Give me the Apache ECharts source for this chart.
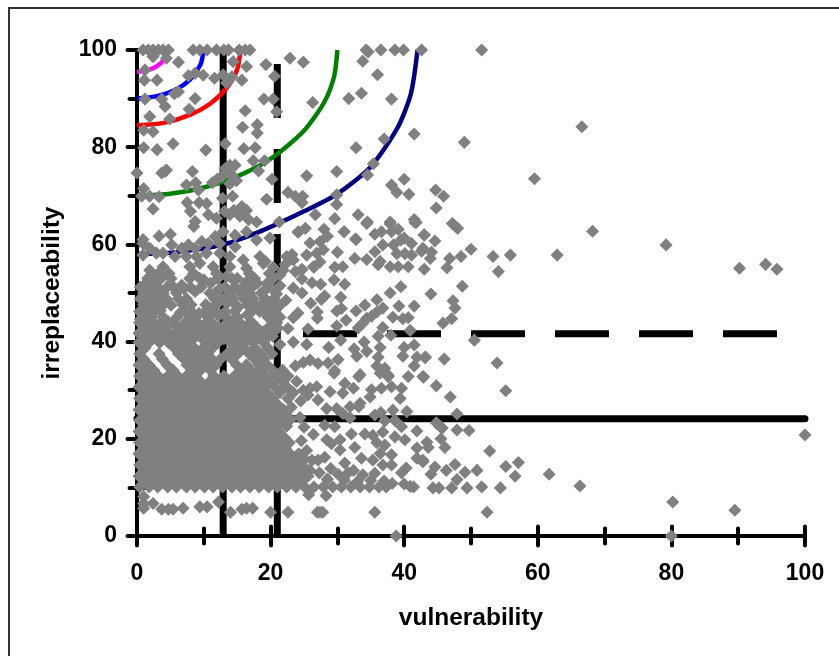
<!DOCTYPE html>
<html>
<head>
<meta charset="utf-8">
<title>irreplaceability vs vulnerability</title>
<style>
  html, body { margin: 0; padding: 0; background: #fff; }
  #chart { width: 839px; height: 656px; }
</style>
<script src="https://cdn.jsdelivr.net/npm/echarts@6/dist/echarts.min.js"></script>
</head>
<body>
<div id="chart"></div>
<script>
// axis
const tickInterval = 20;
const axisMax = 100;

// threshold lines
const vulnSolid = [[12.9, 0], [12.9, 100]];
const vulnDashed = [[21, 97.1], [21, 0]];
const irrSolid = [[0, 24.1], [100, 24.1]];
const irrDashed = [[-0.3, 41.6], [96.6, 41.6]];

// curved zones, innermost first
const arcMagenta = [[0, 95.5], [2, 96], [3.5, 97.2], [4.5, 99]];
const arcBlue = [[0, 90], [3, 90.5], [6, 92], [8, 94], [9.5, 97], [10, 100]];
const arcRed = [[0, 84.5], [4, 85], [8, 86.7], [11, 89], [13.5, 92.3], [15, 96], [15.5, 100]];
const arcGreen = [[0, 70], [5, 70.4], [10, 71.7], [15, 74], [20, 77.6], [25, 83.4], [28, 89.2], [29.5, 94.5], [30, 100]];
const arcNavy = [[0, 58], [6, 58.4], [13, 60], [19, 63], [25, 66.8], [30, 70.4], [35, 76], [39, 84], [41, 91], [42, 100]];

// species
const pointsFarRight = [
  [42.6,100],[51.6,100],[66.6,84.2],[49,81],[59.5,73.5],[44.7,71.2],[45.9,69.9],[44.8,67.5],[47.2,64.3],[47.6,63.8],[48,63.3],
  [43,61.9],[44.6,60.7],[50,59],[42.8,59.2],[44.1,58.4],[42.6,58.6],[43.9,57.1],[46.8,57.1],[48.5,57.5],[53.3,57.5],[55.9,57.8],
  [62.9,57.8],[68.2,62.7],[79.2,59.9],[90.2,55.1],[94.1,55.9],[95.8,54.9],[54.1,54.4],[46.4,55.2],[43,54.9],[48.7,51.4],[44,49.8],
  [47.3,48.4],[47.6,46.9],[47.1,44.7],[45.8,43.8],[50.5,40.3],[53.9,35.6],[55.2,29.9],[46,36.4],[43.1,36.7],[42.9,32.7],[44.8,30.9],
  [46.9,28.6],[47.9,25.1],[44.8,23.3],[45.4,22.5],[45.7,22.2],[47.9,21.8],[49.7,21.7],[45.5,20],[43.4,19.3],[43.6,18.2],[46.1,18.2],
  [52.8,17.5],[42.8,15.3],[57.1,15.1],[55.2,14.3],[47.6,14.7],[44.6,14.2],[44,12.7],[46.3,13.5],[49.1,13.1],[50.9,13.5],[56.6,12.3],
  [61.7,12.7],[47.9,11.6],[66.3,10.3],[44.3,9.9],[45.2,9.9],[47.1,9.9],[49.4,9.9],[51.6,10.1],[54.4,9.9],[52.4,4.9],[80.2,7],[89.5,5.3],
  [80,0],[100,20.8],[38.8,0]
];
const pointsTop = [
  [0.9,100],[1.7,100],[2.4,100],[3.2,100],[3.9,100],[4.7,100],[8.4,100],[9.4,100],[10.5,100],[11.9,100],[13,100],[13.7,100],[15.3,100],
  [16.2,100],[16.9,100],[34.3,100],[36.5,100],[38.6,100],[39.9,100],[33.8,97.7],[34.6,99.6],[2.4,98.6],[4.4,98.3],[6.2,97.5],[14.4,97.6],
  [16.4,96.6],[19.3,97],[22.9,98.3],[24.9,97.5],[1.2,95.9],[1.1,93.8],[3,93.8],[7.7,94.7],[8.7,95.2],[9.9,94.8],[11.6,94.2],[12.9,94.9],
  [14.2,94.5],[13.4,93.2],[15.7,93.8],[20.6,94.6],[36,94.9],[6.2,91.4],[5.6,91],[3.7,89.9],[1.2,89.9],[4.2,88.4],[8.7,90],[7.8,87.8],
  [4.9,85.8],[1.9,86.3],[1,83.5],[2.4,83.2],[16.2,87.5],[19,89.9],[20.4,89.9],[20.9,87.3],[26.3,89.2],[31.7,90],[33.6,91.1],[38.1,89.9],
  [15.8,84.1],[18,84.6],[18,82.9],[41.5,82.7],[37,81.7],[5.4,80.7],[1,79.9],[3,79.5],[10.3,79.4],[13.2,80.7],[16,79.7],[17.7,79.9],
  [32.8,79.9],[17.4,77.2],[19.1,77.2],[35.4,76.6],[4.4,75.3],[3.7,74.7],[4.2,75],[0,74.7],[8.3,75],[13.9,76.3],[14.7,76.3],[13.2,75.6],
  [18.2,75.1],[29.9,75],[25.4,74.1],[34.5,74.3],[12.7,74],[12,73.4],[11.3,72.7],[14.2,74.3],[14.9,73.1],[13.9,72.5],[20.2,73.4],[38.1,72.2],
  [40,73.4],[8.8,72.7],[7.4,72.2],[9.2,71.2],[1,71.5],[1.9,69.9],[0.7,69.9],[3.3,69.8],[22.6,70.7],[23.7,69.9],[24.8,69.9],[24.7,68.6],
  [19.4,69.3],[14.3,69.9],[12.8,69.5],[38.9,70.7],[40.7,70.3],[29.9,70.2],[29.9,68.2],[7.5,68.6],[9.3,68.6],[10.4,68.4]
];
const pointsUpperMid = [
  [2.4,67.3],[8,66.8],[10.7,66.1],[13.1,66.8],[14.5,67],[15.7,67.8],[16.4,67],[15.4,65.8],[13.9,66.1],[16.7,65.1],[17.9,64.6],[11.9,65.4],
  [8.7,64.7],[8.5,63.7],[21.3,64.6],[26.7,66.1],[33.1,66.1],[34.5,64.6],[29.6,65.3],[37.9,64.6],[41.5,65.1],[41.8,64.5],[31,62.6],[32.8,61],
  [24.2,62.6],[5,62.1],[3.3,61.7],[0.9,61],[19.9,61.3],[1.9,59.2],[2.9,58.2],[3.9,58.2],[5.2,59.9],[6.7,59.2],[7.7,59.9],[8.7,59.2],[9.7,60.6],
  [10.7,60.2],[11.7,61.6],[12.9,62.6],[14.7,61.9],[16.4,62.6],[17.9,60.9],[14.7,59.5],[12.4,60.2],[12.4,58.2],[10.4,58.2],[8.9,57.5],[7.4,57.5],
  [5.7,57.5],[3.9,55.4],[1.9,54.7],[0.9,57.8],[0.9,60.2],[13.9,57.5],[15.9,56.8],[18.4,57.5],[13.9,55.4],[7.9,55.4],[9.4,56.1],[11.4,55.4],
  [16.4,55.1],[18.9,56.1],[22.4,57.5],[23.4,56.8],[21.9,54.7],[24.6,54.7],[26.4,55.4],[25.2,63.3],[24.1,62.5],[28,63.1],[28.5,61.7],[31,62.6],
  [32.7,61.1],[34.4,64.3],[35.6,62.1],[36.6,62.6],[37.9,64.2],[38.1,62.6],[39.1,63.1],[41.6,64.5],[43,62],[25.9,60.3],[25.4,57.8],[27.4,60.6],
  [27.9,58.9],[26.9,58.2],[27.4,56.4],[26.5,55.3],[30,58.4],[29.6,55.3],[30.8,55.4],[32.6,57.1],[34.4,56.9],[35.6,58.5],[36.8,59.9],[36.4,56.5],
  [36.1,55.8],[37.9,55.4],[38.4,59.9],[38.9,58.1],[39.5,60.9],[40.1,58.1],[41.1,60.2],[41.1,57.8],[39.1,55.4],[40.6,55.4],[42.8,58.9],[40,61.3],
  [23.2,57.9],[19.2,56.5],[20.4,55.3],[22.2,55.9]
];
const pointsMid = [
  [23.7,54.4],[24.7,54.9],[21.4,53.7],[24.7,52.9],[26.2,52.1],[27.5,51.8],[29.5,52.7],[31.1,51.8],[19.4,51.9],[23.4,51],[24.7,50],[21.4,51.5],
  [20.9,49.8],[22.3,48.5],[28.1,49.4],[27.6,48.7],[30.5,49.1],[26,47.9],[37.9,50],[39.5,51.3],[35.9,48.6],[34.1,47.5],[41.5,47.3],[39.2,47.3],
  [36.8,46.9],[32.8,46.3],[29.9,46.3],[30.6,46.8],[27,46.1],[27,44.8],[24.1,45.9],[23.4,44.9],[31.3,44.4],[35.1,45.2],[35.9,46.1],[34.4,44.8],
  [33.8,43.8],[33.1,42.8],[38.3,45],[39.8,44.7],[40.6,44.9],[29.9,43.2],[36.8,42.9],[25.6,42.6],[22.6,42.7],[20.9,43.9],[40.9,42.3],[36.1,41.1],
  [38,41.3],[30.5,40.3],[25.4,39.4],[23.4,39.9],[21.4,39.4],[34,39.9],[28.7,38.8],[36.4,38.8],[32.5,38.5],[34.4,38],[32.9,37],[41.5,39.3],[40,38.8],
  [39.8,37],[41.9,36.8],[43.2,36.8],[36.1,36.8],[30.1,36.3],[28.6,35.6],[27.1,35.5],[25.9,36.2],[24.9,35.7],[23.7,35],[29.6,34],[35.9,35],[37.1,34.5],
  [36.4,33.5],[41.5,35],[37.6,32.8],[33.4,33.2],[40.6,32.8],[42.8,32.8],[29.5,33.5],[33.2,32.8],[37.6,33.1],
  // y 40 to 55, left of the dashed vertical
  [1,51.6],[2.4,52.7],[2.4,49.6],[3.9,49.9],[6.7,51.6],[7,50.9],[8.7,50.3],[10,52.7],[11,52],[12.4,50.9],[13.4,53.4],[15,53],[16.4,52.3],[18,52],
  [19.4,50.9],[2,47],[3.5,46.4],[5.1,47.5],[6.5,46],[7.9,44.5],[9.3,45.8],[10.9,46.9],[12.2,45.3],[13.5,47.9],[15.1,47],[16.5,45.5],[17.8,47.6],
  [19.3,46],[21.3,47.3],[0.6,46],[0.5,44.6],[1.4,44],[3,43.4],[4.6,44.2],[5.9,43],[6.9,41.8],[8.4,42.6],[10,43.4],[11.4,42.1],[12.8,43],[14.3,44],
  [15.8,42.7],[17.3,43.8],[18.9,42],[20.3,41.1],[1.9,41.8],[3.6,41.2],[5.1,40.7],[9.6,40.8],[13,40.6],[16.5,40.4]
];
const pointsLower = [
  [28.9,29.7],[31.1,31.4],[32.4,30.4],[30.8,29.4],[35.1,30.1],[36.6,30.4],[38.1,30.7],[39.6,30.4],[26.9,30.7],[25.9,30.4],[24.9,30],[27.1,28],
  [25.6,29],[39.4,28.3],[34.9,28.6],[33.4,27.3],[29.9,26.2],[28.4,26.2],[31.9,26.6],[38.3,25.9],[35.6,24.9],[36.5,25.4],[40.4,25.6],[31.9,24.3],
  [30.8,25.2],[37.1,23.7],[38.6,23.8],[28.1,22.8],[29.6,22.5],[39.6,22.5],[41.9,21.6],[36.8,21.4],[32.1,21],[34.1,21],[35.3,20.7],[38.6,20.4],
  [40.1,19.8],[41.9,18.1],[30.4,19.8],[28.4,19.8],[29.1,19],[26.4,20.9],[35.9,19.2],[37.1,18.7],[32.6,18.2],[30.4,17.7],[36.4,17],[38.1,16.7],
  [33.6,16],[35.3,15.6],[27.1,15.6],[28.1,16.2],[41.9,16],[42.8,15.6],[31.1,15],[36.8,14.6],[38.1,14.6],[40.3,14],[39.6,13],[25.9,13.5],[32.4,13.5],
  [33.8,12.6],[35.6,12.9],[30.1,12.7],[31.6,13],[38.2,10.8],[40,10.7],[40.9,10.2],[41.4,10.1],[25.7,8.5],[28.3,8.3],[20,4.9],[22.6,4.9],[27,4.9],
  [27.8,4.9],[35.6,4.9],[14,4.9],[15.7,5.5],[16.4,5.7],[17.3,5.7],[1,6.7],[1,8.1],[1,5.7],[2.4,6.7],[3.7,5.5],[4.7,5.5],[5.4,5.5],[6.9,5.7],
  [9.4,6],[10.5,6],[12.2,7],[27.4,4.9],[33.2,26.6],[24.5,27.8],[23.1,26.5],[24.4,24.4],[23,24],[25,22.4],[24.6,19.6],
  [25.4,17.6],[24.2,16.4],[26.2,15.6],[23.5,14.9],[25.2,14],[27.3,13],[29,13.9],[28.5,11.7],[31,11.5],[33,11.2],[35,11.4],[37,11.3]
];

// solid core of the cloud, one row per irreplaceability value: [y, [x, x, ...]]
const denseRows = [
  [10.1, [0.4,1.8,3.1,4.6,5.9,7.4,8.7,10.1,11.4,12.8,14.2,15.5,16.9,18.3,19.7,21,22.4,23.8,25.1,26.5,27.9,29.3,30.6,32,33.4,34.8,36.2,37.3]],
  [11.2, [1.1,2.6,3.9,5.4,6.7,8.1,9.5,10.8,12.3,13.6,15,16.3,17.8,19.1,20.5,21.9,23.1,24.6]],
  [12.3, [0.3,1.9,3.4,4.8,6.1,7.6,9,10.2,11.7,13.1,14.5,15.7,17.2,18.6,20,21.3,22.7,24.2,25.6]],
  [13.5, [1,2.5,3.9,5.3,6.8,8.2,9.5,11,12.4,13.7,15.2,16.5,17.9,19.4,20.7,22.1,23.6,24.8]],
  [14.6, [0.4,1.8,3.2,4.6,6,7.4,8.9,10.3,11.6,13,14.4,15.8,17.2,18.6,20,21.4,22.8,24.3]],
  [15.8, [1.1,2.6,4,5.4,6.7,8.2,9.6,11,12.3,13.7,15.1,16.6,17.9,19.3,20.8,22.1,23.5,25.1]],
  [16.9, [0.3,1.9,3.3,4.7,6.1,7.5,8.9,10.3,11.7,13.1,14.5,15.9,17.3,18.7,20.1,21.5,22.9,24.2]],
  [18, [1,2.5,3.9,5.3,6.8,8.2,9.6,11,12.4,13.8,15.2,16.6,18,19.4,20.8,22.2]],
  [19.2, [0.4,1.8,3.2,4.6,6,7.4,8.8,10.2,11.6,13,14.4,15.8,17.2,18.6,20,21.4,22.8]],
  [20.3, [1.1,2.5,3.9,5.3,6.7,8.1,9.5,10.9,12.3,13.7,15.1,16.5,17.9,19.3,20.6,22]],
  [21.5, [0.3,1.8,3.2,4.6,6,7.4,8.8,10.2,11.6,13,14.4,15.8,17.2,18.6,20,21.2]],
  [22.6, [1,2.5,3.9,5.3,6.7,8.1,9.5,10.9,12.3,13.7,15.1,16.5,17.9,19.2,20.6,22.4]],
  [23.8, [0.4,1.8,3.2,4.6,6,7.4,8.8,10.2,11.6,13,14.4,15.8,17.2,18.5,19.9,21.5]],
  [24.9, [1.1,2.5,3.9,5.3,6.7,8.1,9.5,10.9,12.3,13.7,15.1,16.5,17.9,19.3,20.8,22.3]],
  [26, [0.3,1.8,3.2,4.6,6,7.4,8.8,10.2,11.6,13,14.4,15.8,17.2,18.6,20.1,21.9]],
  [27.2, [1,2.5,3.9,5.3,6.7,8.1,9.5,10.9,12.3,13.7,15.1,16.5,17.9,19.4,20.9]],
  [28.3, [0.4,1.8,3.2,4.6,6,7.4,8.8,10.2,11.6,13,14.4,15.7,17.2,18.7,20.3,22.6]],
  [29.5, [1.1,2.5,3.9,5.3,6.7,8.1,9.5,10.9,12.3,13.6,15.1,16.6,17.9,19.5,21.4,23.4]],
  [30.6, [0.3,1.8,3.2,4.6,6,7.4,8.8,10.2,11.6,13,14.3,15.9,17.4,18.8,20.7,22.5]],
  [31.8, [1,2.5,3.9,5.3,6.7,8.1,9.5,10.9,12.2,13.8,15.2,16.7,18.1,19.8,21.8,23.9]],
  [32.9, [0.4,1.8,3.2,4.6,6.1,7.4,8.8,11.5,13,14.6,16,17.6,19.2,20.9,22.6]],
  [34.1, [1.1,2.5,5.4,8.2,9.5,11,15.5,17,18.5,20.3,21.8]],
  [35.2, [0.3,1.8,4.5,7.5,9,10.2,11.8,14.9,16.4,18.2,19.5]],
  [36.4, [1,3.8,7,8.3,9.8,11.2,12.5,14.2,17.6,19]],
  [37.5, [0.4,3.3,6.2,7.8,9.1,10.5,13.5,15.1,16.8,18.5,20.2]],
  [38.7, [1.2,5.6,7.2,8.6,9.9,11.3,14.4,16.1,17.7,19.6]],
  [39.8, [0.3,1.8,3.4,4.7,6.3,7.9,10.8,12.1,14,15.5,17.4,19]],
  [40.8, [1,2.6,4.2,7,8.6,11,12.8,14.8,16,18,19.4]],
  [41.7, [0.3,1.4,3,4.8,6,8,9.3,10.6,12,13.6,15.2,17,18.3,20]],
  [42.8, [1,2.3,4.1,6.4,7.7,9.4,10.7,12.2,14.5,16.2,18,19.6,21.1]],
  [43.9, [0.4,1.8,3.7,5.3,7.2,9.1,11.2,13.5,15.4,16.9,20.4]],
  [45, [1,2.2,3.9,6,8.7,10.6,13.4,15,19.6,21.4]],
  [46.2, [0.4,1.5,2.7,7.2,8.2,10.2,11.5,13.2,14.6,17.2,18.4,20.6]],
  [47.6, [1,2.6,3.9,6.9,8.1,10.3,11.9,14.8,16.5,18.6,20]],
  [48.8, [0.5,1.6,3,4.4,6.2,7.4,11.6,12.8,14.4,16,17.4,19.2,20.5]],
  [50, [1,5.9,10.9,11.7,13.9,15.5,16.9,18.6]],
  [51.2, [0.5,1.7,3.1,4.5,5.5,8,9.6,13.2,14.6,15.8,17.2,20]],
  [53, [1.6,3.6,5.1,7.9,9.4,12.1,14.2,17.6,20.4]],
  [54, [3.2,4.8,8.5,11.9,16.8,19.8]]
];

const denseCore = denseRows.flatMap(([y, xs]) => xs.map(x => [x, y]));
const allPoints = [...denseCore, ...pointsLower, ...pointsMid, ...pointsUpperMid, ...pointsTop, ...pointsFarRight];

const FONT = '"Liberation Sans", Arial, sans-serif';

function lineSeries(data, color, width, extra) {
    return Object.assign({
        type: 'line',
        data: data,
        symbol: 'none',
        silent: true,
        clip: false,
        z: 3,
        lineStyle: { color: color, width: width, cap: 'butt' }
    }, extra || {});
}

function curveSeries(data, color) {
    return lineSeries(data, color, 4.5, { smooth: 0.25 });
}

// one axis carries the outer half of each tick, the other the inner half
function valueAxis(position, name, nameGap, outer) {
    const axis = {
        type: 'value',
        position: position,
        min: 0,
        max: axisMax,
        interval: tickInterval,
        splitLine: { show: false },
        axisLine: { show: outer, onZero: false, lineStyle: { color: '#000', width: 4 } },
        axisTick: { show: true, inside: !outer, length: 9.5, lineStyle: { color: '#000', width: 4, cap: 'round' } },
        minorTick: { show: true, splitNumber: 2, length: 7.5, lineStyle: { color: '#000', width: 4, cap: 'round' } },
        minorSplitLine: { show: false },
        axisLabel: {
            show: outer, color: '#000', fontFamily: FONT, fontWeight: 'bold', fontSize: 23,
            margin: position === 'bottom' ? 26 : 20,
            padding: position === 'bottom' ? 0 : [2, 0, 0, 0]
        }
    };
    if (outer) {
        axis.name = name;
        axis.nameLocation = 'middle';
        axis.nameGap = nameGap;
        axis.nameTextStyle = { color: '#000', fontFamily: FONT, fontWeight: 'bold', fontSize: 24.5 };
    }
    return axis;
}

const chart = echarts.init(document.getElementById('chart'), null, { renderer: 'canvas' });
chart.setOption({
    animation: false,
    backgroundColor: '#fff',
    grid: { left: 137, right: 34, top: 50, bottom: 120 },
    xAxis: [valueAxis('bottom', 'vulnerability', 70, true), valueAxis('bottom', '', 0, false)],
    yAxis: [valueAxis('left', 'irreplaceability', 72, true), valueAxis('left', '', 0, false)],
    graphic: [
        { type: 'line', shape: { x1: 8, y1: 8, x2: 839, y2: 8 }, style: { stroke: '#333', lineWidth: 2 } },
        { type: 'line', shape: { x1: 9, y1: 8, x2: 9, y2: 656 }, style: { stroke: '#333', lineWidth: 2 } }
    ],
    series: [
        lineSeries(vulnSolid, '#000', 7),
        lineSeries(vulnDashed, '#000', 7, { lineStyle: { color: '#000', width: 7, type: [54, 31], cap: 'butt' } }),
        lineSeries(irrDashed, '#000', 7, { lineStyle: { color: '#000', width: 7, type: [54, 30], cap: 'butt' } }),
        lineSeries(irrSolid, '#000', 7, { lineStyle: { color: '#000', width: 7, cap: 'round' } }),
        curveSeries(arcNavy, '#000080'),
        curveSeries(arcGreen, '#008000'),
        curveSeries(arcRed, '#ff0000'),
        curveSeries(arcBlue, '#0000ff'),
        curveSeries(arcMagenta, '#ff00ff'),
        {
            type: 'scatter',
            data: allPoints,
            symbol: 'diamond',
            symbolSize: 11,
            silent: true,
            clip: false,
            z: 6,
            itemStyle: { color: '#808080', borderColor: '#808080', borderWidth: 1.5, opacity: 1 }
        }
    ]
});
</script>
</body>
</html>
